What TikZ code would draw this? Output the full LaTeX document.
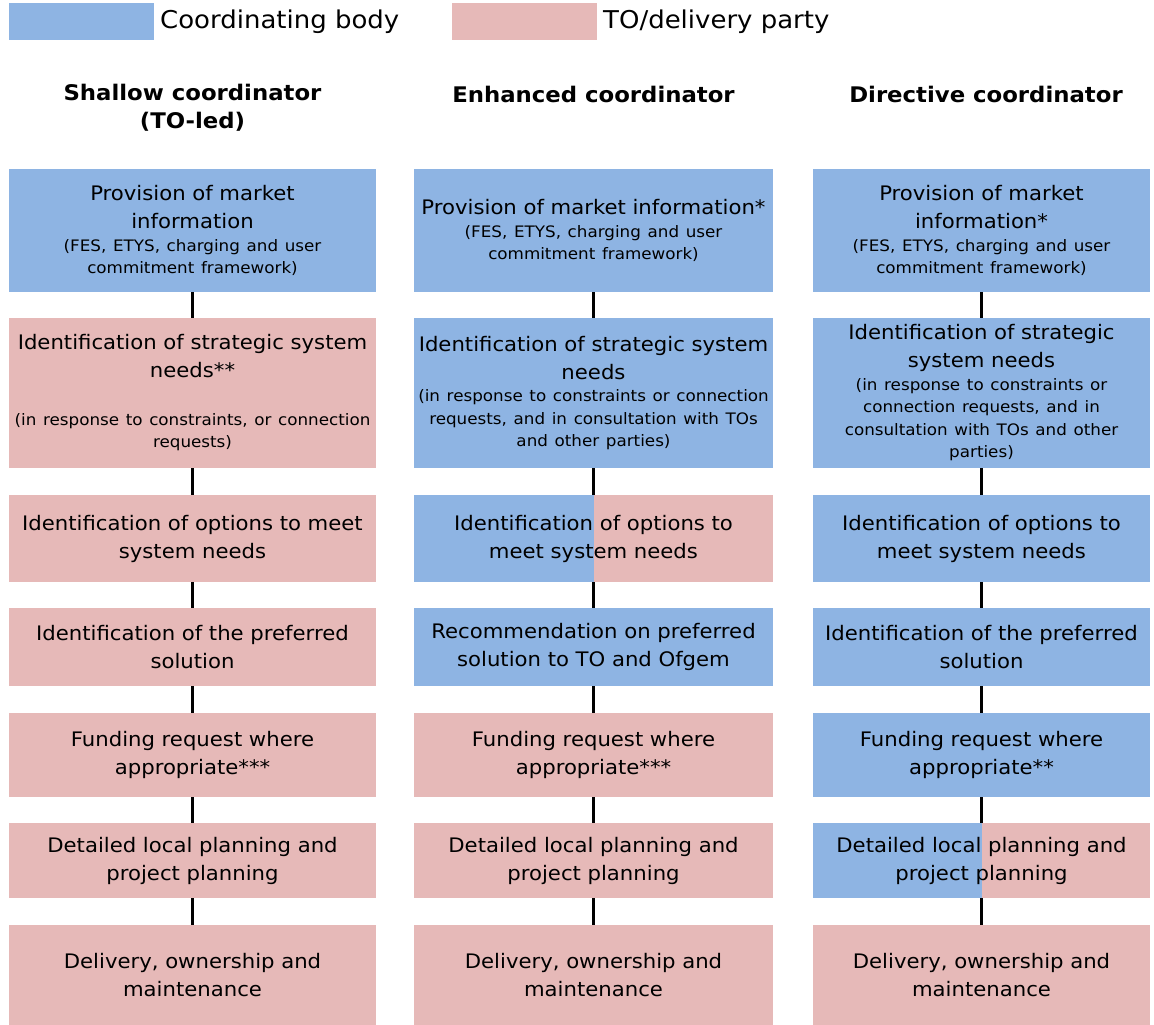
\documentclass[tikz,border=0pt]{standalone}
\usepackage{fontspec}
\setmainfont{DejaVu Sans}[FakeStretch=1.06]
\definecolor{coordblue}{HTML}{8EB4E3}
\definecolor{topink}{HTML}{E6B9B8}
\newcommand\mainsize{\fontsize{20}{28}\selectfont}
\newcommand\notesize{\fontsize{15.8}{22.5}\selectfont}
\begin{document}
\begin{tikzpicture}[x=1pt,y=-1pt,
  stage/.style={draw=none, inner sep=0pt, outer sep=0pt, align=center,
    font=\mainsize, text=black},
  col1/.style={stage, minimum width=367pt, text width=363pt},
  col2/.style={stage, minimum width=359pt, text width=355pt},
  col3/.style={stage, minimum width=337pt, text width=333pt},
  r1/.style={minimum height=123pt}, r2/.style={minimum height=150pt},
  r3/.style={minimum height=87pt},  r4/.style={minimum height=78pt},
  r5/.style={minimum height=84pt},  r6/.style={minimum height=75pt},
  r7/.style={minimum height=100pt},
  coord/.style={fill=coordblue}, deliv/.style={fill=topink},
  shared/.style={fill=coordblue, path picture={
      \fill[topink] (path picture bounding box.north)
        rectangle (path picture bounding box.south east);}},
  link/.style={draw=black, line width=3pt},
  header/.style={font=\fontsize{21.5}{28}\selectfont\bfseries, align=center, inner sep=0pt},
  legendbox/.style={minimum width=145pt, minimum height=37pt, inner sep=0pt},
  legendtext/.style={anchor=west, font=\fontsize{24.5}{26}\selectfont, inner sep=0pt}]
\useasboundingbox (0,0) rectangle (1154,1025);

% legend
\node[legendbox, fill=coordblue] (lgc) at (81.5,21.5) {};
\node[legendtext] (lgct) at (160,21.5) {Coordinating body};
\node[legendbox, fill=topink] (lgd) at (524.5,21.5) {};
\node[legendtext] (lgdt) at (603,21.5) {TO/delivery party};

% column headings
\node[header] (h1) at (192.5,108) {Shallow coordinator\\(TO-led)};
\node[header] (h2) at (593.5,94) {Enhanced coordinator};
\node[header] (h3) at (986,94) {Directive coordinator};

% shallow coordinator
\node[col1,r1,coord] (a1) at (192.5,230.5) {Provision of market\\information\par
  {\notesize (FES, ETYS, charging and user\\commitment framework)\par}};
\node[col1,r2,deliv] (a2) at (192.5,393) {Identification of strategic system\\needs**\par
  {\notesize\vspace{25pt}(in response to constraints, or connection\\requests)\par}};
\node[col1,r3,deliv] (a3) at (192.5,538.5) {Identification of options to meet\\system needs};
\node[col1,r4,deliv] (a4) at (192.5,647) {Identification of the preferred\\solution};
\node[col1,r5,deliv] (a5) at (192.5,755) {Funding request where\\appropriate***};
\node[col1,r6,deliv] (a6) at (192.5,860.5) {Detailed local planning and\\project planning};
\node[col1,r7,deliv] (a7) at (192.5,975) {Delivery, ownership and\\maintenance};

% enhanced coordinator
\node[col2,r1,coord] (b1) at (593.5,230.5) {Provision of market information*\par
  {\notesize (FES, ETYS, charging and user\\commitment framework)\par}};
\node[col2,r2,coord] (b2) at (593.5,393) {Identification of strategic system\\needs\par
  {\notesize (in response to constraints or connection\\requests, and in consultation with TOs\\and other parties)\par}};
\node[col2,r3,shared] (b3) at (593.5,538.5) {Identification of options to\\meet system needs};
\node[col2,r4,coord] (b4) at (593.5,647) {Recommendation on preferred\\solution to TO and Ofgem};
\node[col2,r5,deliv] (b5) at (593.5,755) {Funding request where\\appropriate***};
\node[col2,r6,deliv] (b6) at (593.5,860.5) {Detailed local planning and\\project planning};
\node[col2,r7,deliv] (b7) at (593.5,975) {Delivery, ownership and\\maintenance};

% directive coordinator
\node[col3,r1,coord] (c1) at (981.5,230.5) {Provision of market\\information*\par
  {\notesize (FES, ETYS, charging and user\\commitment framework)\par}};
\node[col3,r2,coord] (c2) at (981.5,393) {Identification of strategic\\system needs\par
  {\notesize (in response to constraints or\\connection requests, and in\\consultation with TOs and other\\parties)\par}};
\node[col3,r3,coord] (c3) at (981.5,538.5) {Identification of options to\\meet system needs};
\node[col3,r4,coord] (c4) at (981.5,647) {Identification of the preferred\\solution};
\node[col3,r5,coord] (c5) at (981.5,755) {Funding request where\\appropriate**};
\node[col3,r6,shared] (c6) at (981.5,860.5) {Detailed local planning and\\project planning};
\node[col3,r7,deliv] (c7) at (981.5,975) {Delivery, ownership and\\maintenance};

% vertical connectors between successive stages
\foreach \col in {a,b,c}{
  \foreach \i [evaluate=\i as \j using int(\i+1)] in {1,...,6}{
    \draw[link] (\col\i.south) -- (\col\j.north);
  }
}
\end{tikzpicture}
\end{document}
